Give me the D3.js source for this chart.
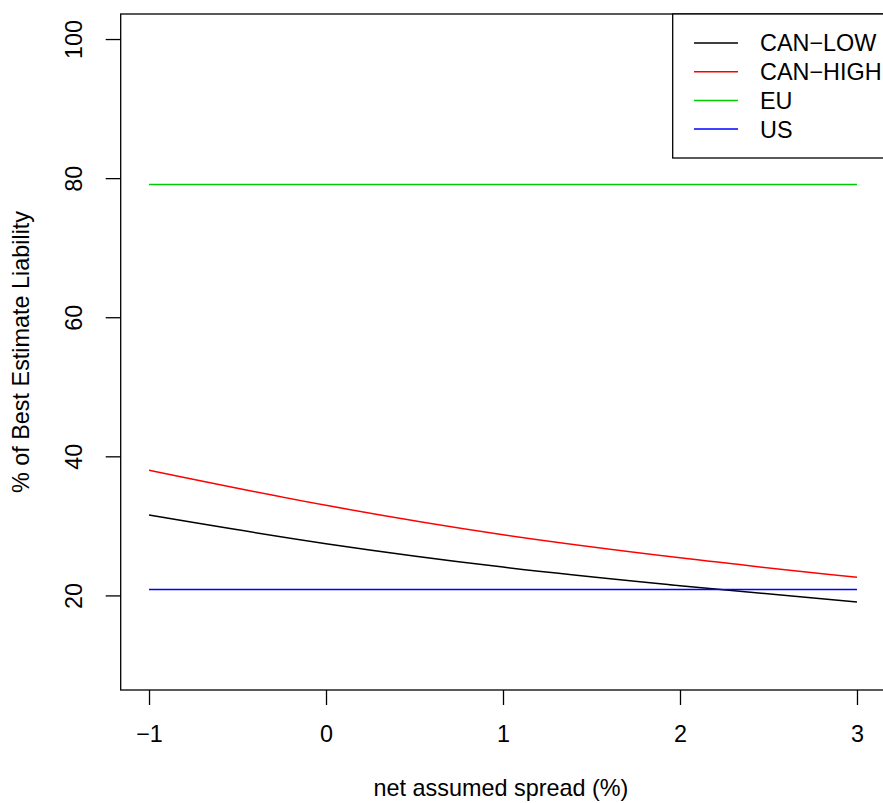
<!DOCTYPE html>
<html><head><meta charset="utf-8">
<script src="https://cdn.jsdelivr.net/npm/d3@7"></script>
<style>body{margin:0;background:#fff}svg{display:block}text{font-family:"Liberation Sans",Arial,Helvetica,sans-serif}</style>
</head><body>
<svg id="chart" width="883" height="803"></svg>
<script>
const spread = [-1, 0, 1, 2, 3];
const canLow = [31.55, 27.44, 24.07, 21.4, 19.04];
const canHigh = [38.0, 32.95, 28.72, 25.4, 22.6];
const eu = [79.1, 79.1, 79.1, 79.1, 79.1];
const us = [20.85, 20.85, 20.85, 20.85, 20.85];
const xTicks = [-1, 0, 1, 2, 3];
const yTicks = [20, 40, 60, 80, 100];
const seriesNames = ["CAN\u2212LOW", "CAN\u2212HIGH", "EU", "US"];
const seriesColors = ["#000000", "#FF0000", "#00CD00", "#0000FF"];
const seriesData = [canLow, canHigh, eu, us];

const svg = d3.select("#chart");
const FS = 23.4;
const x = d3.scaleLinear().domain([-1.16, 3.16]).range([120.7, 885.3]);
const y = d3.scaleLinear().domain([6.4, 103.6]).range([690, 14]);

// lines
const line = d3.line().x((d,i)=>x(spread[i])).y(d=>y(d)).curve(d3.curveMonotoneX);
seriesData.forEach((s,k)=>{
  svg.append("path").datum(s).attr("d", line).attr("fill","none")
    .attr("stroke", seriesColors[k]).attr("stroke-width",1.5);
});

// box
svg.append("rect").attr("x",x.range()[0]).attr("y",y.range()[1])
  .attr("width",x.range()[1]-x.range()[0]).attr("height",y.range()[0]-y.range()[1])
  .attr("fill","none").attr("stroke","#000").attr("stroke-width",1.3);

// x axis
const xa = svg.append("g").attr("transform",`translate(0,${y.range()[0]})`)
  .call(d3.axisBottom(x).tickValues(xTicks).tickSize(15).tickPadding(20.5)
    .tickFormat(d=> d<0 ? "\u2212"+Math.abs(d) : d));
xa.select(".domain").remove();
xa.selectAll("line").attr("stroke","#000").attr("stroke-width",1.3);
xa.selectAll("text").attr("font-size",FS).attr("fill","#000").style("font-family",'"Liberation Sans",Arial,sans-serif');

// y axis
const ya = svg.append("g").attr("transform",`translate(${x.range()[0]},0)`)
  .call(d3.axisLeft(y).tickValues(yTicks).tickSize(15));
ya.select(".domain").remove();
ya.selectAll("line").attr("stroke","#000").attr("stroke-width",1.3);
ya.selectAll("text").attr("font-size",FS).attr("fill","#000")
  .style("font-family",'"Liberation Sans",Arial,sans-serif')
  .attr("x",0).attr("dy",null).attr("y",-39).attr("text-anchor","middle")
  .attr("transform","rotate(-90)");

// titles
svg.append("text").attr("x",(x.range()[0]+x.range()[1])/2 - 2).attr("y",796)
  .attr("text-anchor","middle").attr("font-size",FS).text("net assumed spread (%)");
svg.append("text").attr("transform",`translate(29,${(y.range()[0]+y.range()[1])/2}) rotate(-90)`)
  .attr("text-anchor","middle").attr("font-size",FS).text("% of Best Estimate Liability");

// legend
const lg = svg.append("g");
lg.append("rect").attr("x",672.7).attr("y",14).attr("width",260).attr("height",144)
  .attr("fill","#fff").attr("stroke","#000").attr("stroke-width",1.3);
seriesNames.forEach((n,k)=>{
  const yy = 43 + k*28.7;
  lg.append("line").attr("x1",694).attr("x2",738).attr("y1",yy).attr("y2",yy)
    .attr("stroke",seriesColors[k]).attr("stroke-width",1.5);
  lg.append("text").attr("x",760).attr("y",yy).attr("dy","0.36em").attr("font-size",FS).text(n);
});
</script>
</body></html>
